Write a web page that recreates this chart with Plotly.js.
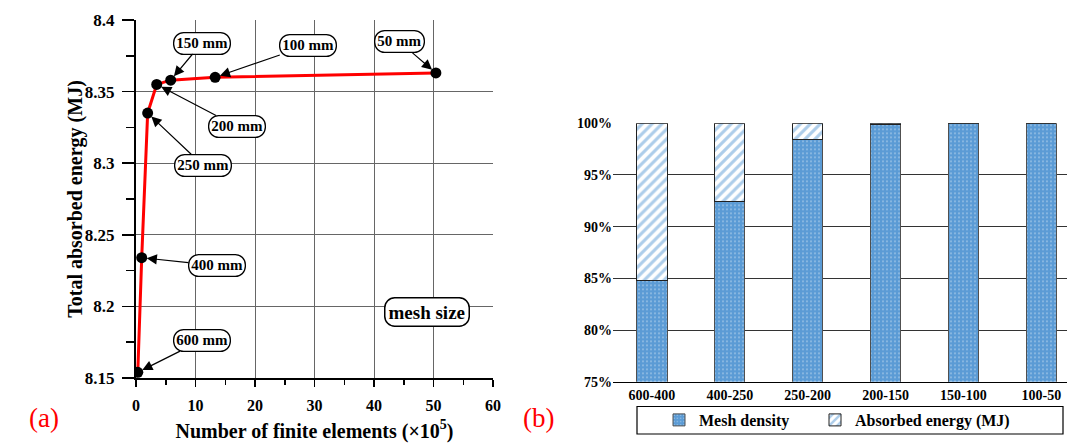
<!DOCTYPE html>
<html>
<head>
<meta charset="utf-8">
<meta name="viewport" content="width=1067">
<script src="https://cdn.plot.ly/plotly-3.0.1.min.js"></script>
<style>html,body{margin:0;padding:0;background:#fff;overflow:hidden;width:1067px;height:447px;}#chart{width:1067px;height:447px;display:block;overflow:hidden;}</style>
</head>
<body>
<div id="chart"></div>
<script>
// ---- Data: panel (a) ----
const elements = [0.3, 0.96, 1.96, 3.48, 5.83, 13.3, 50.4];          // ×10^5
const energy = [8.154, 8.234, 8.335, 8.355, 8.358, 8.360, 8.363];     // MJ
const meshLabels = ['600 mm', '400 mm', '250 mm', '200 mm', '150 mm', '100 mm', '50 mm'];

// ---- Data: panel (b) ----
const categories = ['600-400', '400-250', '250-200', '200-150', '150-100', '100-50'];
const meshDensity = [84.8, 92.4, 98.4, 99.85, 100, 100];
const absorbedEnergy = [15.2, 7.6, 1.6, 0.15, 0.0, 0.0];

// label offsets (pixels) for the callouts
const labelOffsets = [[64, -32], [75, 8], [55, 52], [80, 42], [31, -37], [93, -32], [-36, -31]];

const FONT = "'Liberation Serif', 'Times New Roman', serif";
const W = 1067, H = 447;
const px = v => v / W;
const py = v => (H - v) / H;

const traces = [
  {
    type: 'scatter', mode: 'lines+markers', x: elements, y: energy,
    xaxis: 'x', yaxis: 'y', showlegend: false,
    line: {color: '#ff0000', width: 3},
    marker: {color: '#000', size: 11}
  },
  {
    type: 'bar', name: 'Mesh density', x: categories, y: meshDensity,
    xaxis: 'x2', yaxis: 'y2', width: 0.39, legend: 'legend',
    marker: {color: '#5b9bd5', line: {color: '#505050', width: 1},
      pattern: {shape: '.', fillmode: 'overlay', bgcolor: '#5b9bd5', fgcolor: '#ffffff', size: 4, solidity: 0.15}}
  },
  {
    type: 'bar', name: 'Absorbed energy (MJ)', x: categories, y: absorbedEnergy,
    xaxis: 'x2', yaxis: 'y2', width: 0.39, legend: 'legend2',
    marker: {color: '#ffffff', line: {color: '#202020', width: 1},
      pattern: {shape: '/', fillmode: 'overlay', bgcolor: '#ffffff', fgcolor: '#5b9bd5', size: 7, solidity: 0.45}}
  }
];

const annotations = meshLabels.map((t, i) => ({
  x: elements[i], y: energy[i], xref: 'x', yref: 'y',
  text: t, showarrow: true, ax: labelOffsets[i][0], ay: labelOffsets[i][1],
  arrowhead: 2, arrowsize: 1.7, arrowwidth: 1.2, arrowcolor: '#000', standoff: 5,
  font: {family: FONT, size: 15, color: '#000', weight: 'bold'},
  bgcolor: '#fff', bordercolor: '#000', borderwidth: 1.3, borderpad: 2
}));
annotations.push({
  x: px(427), y: py(327), xref: 'paper', yref: 'paper', showarrow: false,
  text: 'mesh size', font: {family: FONT, size: 19, color: '#000', weight: 'bold'},
  bgcolor: '#fff', bordercolor: '#000', borderwidth: 1.5, borderpad: 3
});
annotations.push({
  x: px(27), y: py(435), xref: 'paper', yref: 'paper', showarrow: false,
  text: '(a)', font: {family: FONT, size: 27, color: '#ff0000'}
});
annotations.push({
  x: px(538), y: py(435), xref: 'paper', yref: 'paper', showarrow: false,
  text: '(b)', font: {family: FONT, size: 27, color: '#ff0000'}
});

const legendFont = {family: FONT, size: 16, weight: 'bold'};
const layout = {
  width: W, height: H, autosize: false,
  margin: {l: 0, r: 0, t: 0, b: 0},
  paper_bgcolor: '#fff', plot_bgcolor: '#fff',
  font: {family: FONT, color: '#000'},
  barmode: 'stack',
  xaxis: {
    domain: [px(136), px(493)], anchor: 'y',
    range: [0, 60], dtick: 10, tick0: 0,
    showline: true, linecolor: '#000', linewidth: 2, mirror: false,
    ticks: 'outside', ticklen: 7, tickwidth: 1.5, tickcolor: '#000', ticklabelstandoff: 5,
    minor: {dtick: 5, ticks: 'outside', ticklen: 5, tickcolor: '#000', tickwidth: 1.5},
    showgrid: true, gridcolor: '#666', gridwidth: 1, zeroline: false,
    tickfont: {family: FONT, size: 16, weight: 'bold'},
    title: {text: 'Number of finite elements (×10<sup>5</sup>)', font: {family: FONT, size: 20, weight: 'bold'}}
  },
  yaxis: {
    domain: [py(378), py(20)], anchor: 'x',
    range: [8.15, 8.4], dtick: 0.05, tick0: 8.15,
    showline: true, linecolor: '#000', linewidth: 2,
    ticks: 'outside', ticklen: 12, tickwidth: 1.5, tickcolor: '#000', ticklabelstandoff: 4,
    minor: {dtick: 0.025, ticks: 'outside', ticklen: 8, tickcolor: '#000', tickwidth: 1.5},
    showgrid: true, gridcolor: '#666', gridwidth: 1, zeroline: false,
    tickfont: {family: FONT, size: 17, weight: 'bold'},
    title: {text: 'Total absorbed energy (MJ)', font: {family: FONT, size: 20, weight: 'bold'}}
  },
  xaxis2: {
    domain: [px(613), 1], anchor: 'y2',
    type: 'category', range: [-0.5, 5.33],
    showline: true, linecolor: '#000', linewidth: 1.2, ticks: '',
    showgrid: false, zeroline: false,
    tickfont: {family: FONT, size: 14, weight: 'bold'}
  },
  yaxis2: {
    domain: [py(381.7), py(123.3)], anchor: 'x2',
    range: [75, 100], dtick: 5, ticksuffix: '%',
    showline: false, ticks: '', showgrid: true, gridcolor: '#333', gridwidth: 1, zeroline: false,
    tickfont: {family: FONT, size: 14, weight: 'bold'}
  },
  legend: {
    orientation: 'h', x: px(659), xanchor: 'left', y: py(403), yanchor: 'top',
    borderwidth: 0, bgcolor: 'rgba(0,0,0,0)', font: legendFont, itemwidth: 30
  },
  legend2: {
    orientation: 'h', x: px(815), xanchor: 'left', y: py(403), yanchor: 'top',
    borderwidth: 0, bgcolor: 'rgba(0,0,0,0)', font: legendFont, itemwidth: 30
  },
  shapes: [{
    type: 'rect', xref: 'paper', yref: 'paper',
    x0: px(637), x1: px(1063), y0: py(434), y1: py(406.5),
    line: {color: '#000', width: 1.2}, fillcolor: 'rgba(0,0,0,0)', layer: 'below'
  }],
  annotations: annotations
};

Plotly.newPlot('chart', traces, layout, {staticPlot: true}).then(() => {
  document.querySelectorAll('.annotation-text-g rect.bg').forEach(r => {
    r.setAttribute('rx', 10); r.setAttribute('ry', 10);
  });
  const xt = document.querySelector('.g-xtitle text');
  if (xt) {
    const bb = xt.getBBox();
    const cy = bb.y + bb.height / 2;
    xt.setAttribute('transform', 'translate(0,' + (437 - cy) + ')');
  }
  const yt = document.querySelector('.g-ytitle text');
  if (yt) {
    const r = yt.getBoundingClientRect();
    const cx = r.left + r.width / 2;
    const t = yt.getAttribute('transform') || '';
    yt.setAttribute('transform', 'translate(' + (75 - cx) + ',0) ' + t);
  }
});
</script>
</body>
</html>
